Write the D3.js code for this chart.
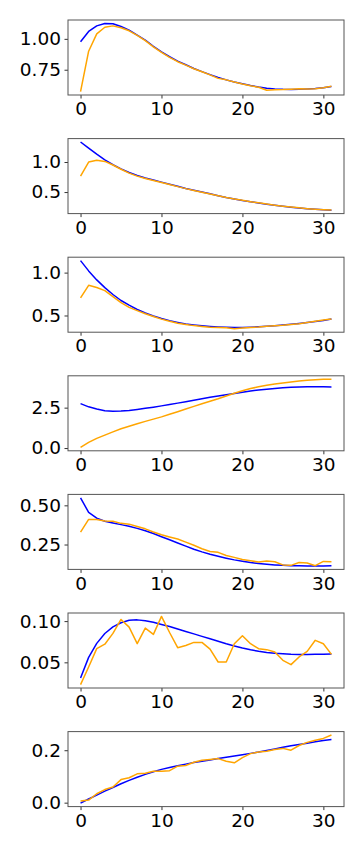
<!DOCTYPE html>
<html>
<head>
<meta charset="utf-8">
<script src="https://cdn.jsdelivr.net/npm/d3@7"></script>
<style>
  body { margin: 0; background: #fff; }
  svg { display: block; }
  .tick text { font-family: "DejaVu Sans", sans-serif; font-size: 18.5px; fill: #000; }
  .tick line { stroke: #333; }
  .domain { display: none; }
</style>
</head>
<body>
<svg></svg>
<script>
let width = 364;
let height = 850;
let xLeft = 68;
let xRight = 344;
let firstTop = 20;
let panelStep = 118.6;
let panelHeight = 75;

// x positions 0..31
const steps = d3.range(32);
const xTicks = [0, 10, 20, 30];

// panel 1
const blue1 = [0.976, 1.06, 1.105, 1.125, 1.122, 1.10, 1.07, 1.03, 0.99, 0.94, 0.895, 0.855, 0.82, 0.79, 0.76, 0.735,
  0.71, 0.688, 0.668, 0.651, 0.636, 0.622, 0.61, 0.601, 0.595, 0.591, 0.59, 0.591, 0.594, 0.598, 0.605, 0.614];
const orange1 = [0.573, 0.90, 1.04, 1.094, 1.105, 1.09, 1.065, 1.028, 0.985, 0.935, 0.89, 0.85, 0.815, 0.787, 0.758, 0.734,
  0.708, 0.68, 0.668, 0.65, 0.634, 0.62, 0.608, 0.584, 0.588, 0.589, 0.592, 0.595, 0.594, 0.596, 0.605, 0.616];
const yTicks1 = [0.75, 1.00];

// panel 2
const blue2 = [1.333, 1.23, 1.13, 1.035, 0.955, 0.885, 0.825, 0.775, 0.735, 0.7, 0.665, 0.63, 0.595, 0.56, 0.53, 0.5,
  0.47, 0.44, 0.41, 0.385, 0.36, 0.34, 0.318, 0.298, 0.28, 0.263, 0.248, 0.235, 0.222, 0.212, 0.204, 0.198];
const orange2 = [0.767, 1.0, 1.028, 1.01, 0.95, 0.88, 0.815, 0.765, 0.725, 0.692, 0.66, 0.625, 0.59, 0.557, 0.527, 0.497,
  0.468, 0.438, 0.41, 0.386, 0.362, 0.34, 0.32, 0.3, 0.282, 0.265, 0.25, 0.237, 0.224, 0.214, 0.206, 0.2];
const yTicks2 = [0.5, 1.0];

// panel 3
const blue3 = [1.14, 1.02, 0.915, 0.825, 0.745, 0.675, 0.62, 0.57, 0.53, 0.495, 0.465, 0.44, 0.42, 0.402, 0.39, 0.38,
  0.372, 0.366, 0.362, 0.36, 0.361, 0.364, 0.368, 0.374, 0.381, 0.389, 0.398, 0.408, 0.419, 0.43, 0.442, 0.46];
const orange3 = [0.705, 0.852, 0.826, 0.79, 0.72, 0.65, 0.595, 0.557, 0.52, 0.488, 0.458, 0.432, 0.41, 0.395, 0.382, 0.372,
  0.364, 0.36, 0.356, 0.345, 0.355, 0.36, 0.366, 0.375, 0.38, 0.386, 0.396, 0.405, 0.418, 0.432, 0.447, 0.46];
const yTicks3 = [0.5, 1.0];

// panel 4
const blue4 = [2.75, 2.55, 2.42, 2.31, 2.28, 2.29, 2.33, 2.39, 2.46, 2.53, 2.61, 2.69, 2.78, 2.87, 2.96, 3.05,
  3.14, 3.22, 3.3, 3.38, 3.46, 3.53, 3.59, 3.64, 3.69, 3.73, 3.76, 3.78, 3.79, 3.79, 3.79, 3.78];
const orange4 = [0.04, 0.35, 0.6, 0.8, 1.0, 1.19, 1.35, 1.5, 1.65, 1.79, 1.93, 2.09, 2.25, 2.42, 2.58, 2.74,
  2.9, 3.05, 3.22, 3.39, 3.55, 3.68, 3.79, 3.88, 3.96, 4.03, 4.09, 4.15, 4.2, 4.23, 4.25, 4.26];
const yTicks4 = [0.0, 2.5];

// panel 5
const blue5 = [0.548, 0.455, 0.418, 0.398, 0.387, 0.377, 0.366, 0.353, 0.338, 0.32, 0.3, 0.28, 0.26, 0.24, 0.22, 0.203,
  0.188, 0.175, 0.163, 0.152, 0.143, 0.135, 0.129, 0.124, 0.12, 0.117, 0.115, 0.114, 0.113, 0.113, 0.113, 0.114];
const orange5 = [0.329, 0.41, 0.41, 0.4, 0.398, 0.385, 0.38, 0.365, 0.35, 0.33, 0.312, 0.298, 0.285, 0.265, 0.245, 0.223,
  0.205, 0.2, 0.18, 0.168, 0.155, 0.147, 0.138, 0.145, 0.14, 0.12, 0.117, 0.135, 0.132, 0.115, 0.142, 0.14];
const yTicks5 = [0.25, 0.50];

// panel 6
const blue6 = [0.031, 0.056, 0.073, 0.085, 0.093, 0.098, 0.101, 0.1015, 0.1005, 0.0985, 0.096, 0.0935, 0.0905, 0.0875, 0.0845, 0.0815,
  0.0785, 0.0755, 0.0725, 0.0698, 0.0673, 0.0652, 0.0634, 0.062, 0.061, 0.0603, 0.0598, 0.0596, 0.0596, 0.0597, 0.0599, 0.0602];
const orange6 = [0.023, 0.0443, 0.0666, 0.072, 0.0851, 0.102, 0.0927, 0.0726, 0.0915, 0.0839, 0.1057, 0.0862, 0.0678, 0.0705, 0.0742, 0.0742,
  0.066, 0.0504, 0.0504, 0.0726, 0.0823, 0.0726, 0.0666, 0.0654, 0.0625, 0.0524, 0.0472, 0.0565, 0.0633, 0.0767, 0.0726, 0.0597];
const yTicks6 = [0.05, 0.10];

// panel 7
const blue7 = [-0.002, 0.014, 0.029, 0.044, 0.058, 0.072, 0.085, 0.097, 0.108, 0.118, 0.127, 0.134, 0.141, 0.147, 0.153, 0.158,
  0.163, 0.168, 0.173, 0.178, 0.183, 0.188, 0.193, 0.199, 0.205, 0.211, 0.217, 0.222, 0.227, 0.232, 0.237, 0.241];
const orange7 = [0.006, 0.01, 0.034, 0.05, 0.06, 0.088, 0.095, 0.11, 0.112, 0.12, 0.12, 0.122, 0.139, 0.142, 0.154, 0.162,
  0.165, 0.168, 0.158, 0.152, 0.172, 0.187, 0.193, 0.196, 0.203, 0.207, 0.2, 0.218, 0.23, 0.238, 0.245, 0.258];
const yTicks7 = [0.0, 0.2];

const panels = [
  { blue: blue1, orange: orange1, ticks: yTicks1, fmt: ".2f" },
  { blue: blue2, orange: orange2, ticks: yTicks2, fmt: ".1f" },
  { blue: blue3, orange: orange3, ticks: yTicks3, fmt: ".1f" },
  { blue: blue4, orange: orange4, ticks: yTicks4, fmt: ".1f" },
  { blue: blue5, orange: orange5, ticks: yTicks5, fmt: ".2f" },
  { blue: blue6, orange: orange6, ticks: yTicks6, fmt: ".2f" },
  { blue: blue7, orange: orange7, ticks: yTicks7, fmt: ".1f" }
];

//svg
const svg = d3.select("svg")
  .attr("width", width)
  .attr("height", height);

//x scale, matplotlib style 5% margins
const xPad = (d3.max(steps) - d3.min(steps)) * 0.05;
const xScale = d3.scaleLinear()
  .domain([d3.min(steps) - xPad, d3.max(steps) + xPad])
  .range([xLeft, xRight]);

panels.forEach((p, i) => {
  let top = firstTop + i * panelStep;
  let bottom = top + panelHeight;
  let all = p.blue.concat(p.orange);
  let lo = d3.min(all);
  let hi = d3.max(all);
  let pad = (hi - lo) * 0.05;

  const yScale = d3.scaleLinear()
    .domain([lo - pad, hi + pad])
    .range([bottom, top]);

  const g = svg.append("g").attr("class", "panel");

  //lines
  const line = (vals) => d3.line()
    .x((d, j) => xScale(steps[j]))
    .y((d) => yScale(d))(vals);

  g.append("path")
    .attr("d", line(p.blue))
    .attr("fill", "none")
    .attr("stroke", "#0000ff")
    .attr("stroke-width", 1.5)
    .attr("stroke-linejoin", "round");
  g.append("path")
    .attr("d", line(p.orange))
    .attr("fill", "none")
    .attr("stroke", "#ffa500")
    .attr("stroke-width", 1.5)
    .attr("stroke-linejoin", "round");

  //axis
  const xAxis = d3.axisBottom(xScale)
    .tickValues(xTicks)
    .tickFormat(d3.format("d"))
    .tickSize(3.5)
    .tickPadding(3.5);
  const yAxis = d3.axisLeft(yScale)
    .tickValues(p.ticks)
    .tickFormat(d3.format(p.fmt))
    .tickSize(3.5)
    .tickPadding(3.5);

  g.append("g")
    .attr("transform", `translate(0, ${bottom})`)
    .call(xAxis);
  g.append("g")
    .attr("transform", `translate(${xLeft}, 0)`)
    .call(yAxis);

  //frame
  g.append("rect")
    .attr("x", xLeft)
    .attr("y", top)
    .attr("width", xRight - xLeft)
    .attr("height", panelHeight)
    .attr("fill", "none")
    .attr("stroke", "#555")
    .attr("stroke-width", 1);
});
</script>
</body>
</html>
